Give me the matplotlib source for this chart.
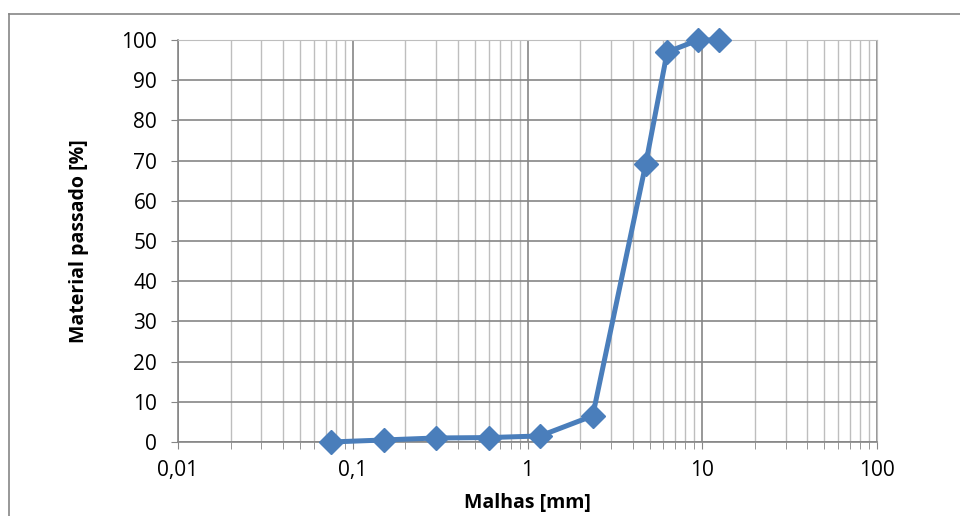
import matplotlib.pyplot as plt
from matplotlib.ticker import LogLocator, FixedLocator, NullFormatter
from matplotlib.lines import Line2D

# sieve data
malhas = [0.075, 0.15, 0.3, 0.6, 1.18, 2.36, 4.75, 6.3, 9.5, 12.5]
passado = [0.0, 0.5, 1.0, 1.1, 1.5, 6.5, 69.2, 97.0, 100.0, 100.0]
x_ticks = [0.01, 0.1, 1, 10, 100]
x_tick_labels = ['0,01', '0,1', '1', '10', '100']
y_ticks = list(range(0, 101, 10))

plt.rcParams['font.family'] = ['Open Sans', 'DejaVu Sans']

fig = plt.figure(figsize=(9.6, 5.16), dpi=100)
ax = fig.add_axes([178 / 960, 1 - 442 / 516, 699 / 960, 402 / 516])

blue = '#4A7EBB'
ax.plot(malhas, passado, color=blue, lw=3.6, marker='D', ms=12.5,
        mfc=blue, mec=blue, zorder=5, clip_on=False)

ax.set_xscale('log')
ax.set_xlim(0.01, 100)
ax.set_ylim(0, 100)

ax.xaxis.set_major_locator(FixedLocator(x_ticks))
ax.set_xticklabels(x_tick_labels)
ax.xaxis.set_minor_locator(LogLocator(base=10, subs=range(2, 10)))
ax.xaxis.set_minor_formatter(NullFormatter())
ax.set_yticks(y_ticks)

ax.grid(which='major', color='#868686', lw=1.2)
ax.grid(which='minor', axis='x', color='#BEBEBE', lw=1.0)
ax.set_axisbelow(True)

for side in ['top', 'right']:
    ax.spines[side].set_color('#BEBEBE')
for side in ['left', 'bottom']:
    ax.spines[side].set_color('#868686')
    ax.spines[side].set_linewidth(1.2)

ax.tick_params(axis='x', which='both', direction='out', length=5,
               color='#868686', labelsize=15, pad=8)
ax.tick_params(axis='y', direction='out', length=5, color='#868686',
               labelsize=15, pad=10)

ax.set_xlabel('Malhas [mm]', fontsize=14, fontweight='bold')
ax.set_ylabel('Material passado [%]', fontsize=14, fontweight='bold')
ax.xaxis.set_label_coords(0.5, -0.128)
ax.yaxis.set_label_coords(-0.128, 0.5)

# chart area border (cropped Excel frame)
fig.add_artist(Line2D([9 / 960, 1], [1 - 14 / 516] * 2, color='#868686', lw=1.2,
                      transform=fig.transFigure))
fig.add_artist(Line2D([9 / 960] * 2, [0, 1 - 14 / 516], color='#868686', lw=1.2,
                      transform=fig.transFigure))

fig.savefig('out.png', dpi=100)
